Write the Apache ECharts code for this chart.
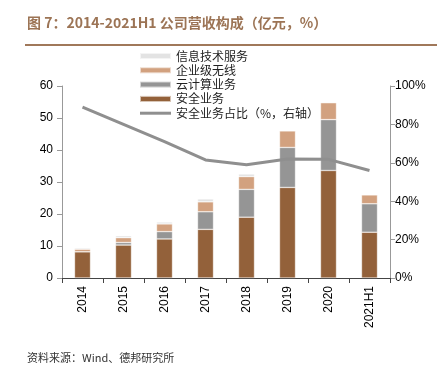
<!DOCTYPE html>
<html><head><meta charset="utf-8">
<script src="https://cdn.jsdelivr.net/npm/echarts@6/dist/echarts.min.js"></script>
<style>html,body{margin:0;padding:0;background:#fff}#c{width:444px;height:375px}</style>
</head><body><div id="c"></div>
<script>
const categories = ['2014','2015','2016','2017','2018','2019','2020','2021H1'];
const safety   = [8.2, 10.3, 12.2, 15.2, 19.0, 28.3, 33.6, 14.3];
const cloud    = [0.0, 0.8, 2.3, 5.5, 8.7, 12.5, 15.9, 8.9];
const wireless = [0.8, 1.5, 2.4, 3.1, 4.0, 5.2, 5.3, 2.8];
const info     = [0.4, 0.6, 0.6, 0.9, 0.8, 0.0, 0.0, 0.0];
const share    = [89, 80, 71, 61.5, 59, 62, 61.8, 56];
const leftTicks = [0, 60, 10];
const rightTicks = [0, 100, 20];

const chart = echarts.init(document.getElementById('c'), null, {renderer:'canvas'});
const cjk = '"Noto Sans CJK SC", sans-serif';
const lat = '"Liberation Sans", Arial, sans-serif';
const barStyle = c => ({color:c, borderColor:'rgba(255,255,255,0.6)', borderWidth:0.6});
chart.setOption({
  animation:false,
  graphic:[
    {type:'text', left:27, top:16, style:{text:'图 7：2014-2021H1 公司营收构成（亿元，%）', font:'bold 14px '+cjk, fill:'#9C7455'}},
    {type:'rect', shape:{x:25, y:44, width:412, height:2}, style:{fill:'#A0785A'}},
    {type:'text', left:27, top:352, style:{text:'资料来源：Wind、德邦研究所', font:'11px '+cjk, fill:'#333'}}
  ],
  grid:{left:62, right:54, top:86, bottom:97},
  legend:{
    orient:'vertical', left:134, top:45, itemWidth:31, itemHeight:6, itemGap:2.3,
    textStyle:{fontFamily:cjk, fontSize:12, color:'#222', lineHeight:12},
    data:[
      {name:'信息技术服务', icon:'rect'},{name:'企业级无线', icon:'rect'},{name:'云计算业务', icon:'rect'},{name:'安全业务', icon:'rect'},
      {name:'安全业务占比（%，右轴）', icon:'path://M0,0H31V3H0Z'}
    ]
  },
  xAxis:{
    type:'category', data:categories,
    axisLine:{lineStyle:{color:'#444', width:1}},
    axisTick:{show:true, alignWithLabel:false, length:5, lineStyle:{color:'#444'}},
    axisLabel:{rotate:90, margin:8, fontFamily:lat, fontSize:12, color:'#000'}
  },
  yAxis:[
    {type:'value', min:leftTicks[0], max:leftTicks[1], interval:leftTicks[2],
     axisLine:{show:true, lineStyle:{color:'#999'}},
     axisTick:{show:true, length:5, lineStyle:{color:'#999'}},
     splitLine:{show:false},
     axisLabel:{fontFamily:lat, fontSize:12, color:'#000', margin:9}},
    {type:'value', min:rightTicks[0], max:rightTicks[1], interval:rightTicks[2], position:'right',
     axisLine:{show:true, lineStyle:{color:'#999'}},
     axisTick:{show:true, length:5, lineStyle:{color:'#999'}},
     splitLine:{show:false},
     axisLabel:{fontFamily:lat, fontSize:12, color:'#000', margin:5, formatter:'{value}%'}}
  ],
  series:[
    {name:'安全业务', type:'bar', stack:'s', barWidth:16, data:safety, itemStyle:barStyle('#93613A')},
    {name:'云计算业务', type:'bar', stack:'s', barWidth:16, data:cloud, itemStyle:barStyle('#959595')},
    {name:'企业级无线', type:'bar', stack:'s', barWidth:16, data:wireless, itemStyle:barStyle('#D2A17F')},
    {name:'信息技术服务', type:'bar', stack:'s', barWidth:16, data:info, itemStyle:barStyle('#E3E3E3')},
    {name:'安全业务占比（%，右轴）', type:'line', yAxisIndex:1, data:share, symbol:'none',
     lineStyle:{color:'#8F8F8F', width:3}, itemStyle:{color:'#8F8F8F'}}
  ]
});
</script></body></html>
